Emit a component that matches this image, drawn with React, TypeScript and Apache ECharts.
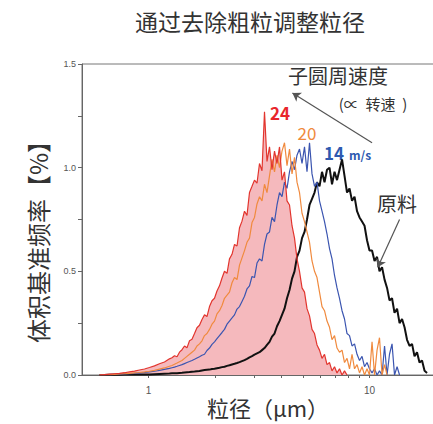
import React, { useEffect, useRef } from "react";
import * as echarts from "echarts";

// particle size (μm), shared by all series
const particleSize = [
  0.600, 0.632, 0.666, 0.702, 0.739, 0.779, 0.820, 0.864, 0.910, 0.959, 1.010, 1.064, 1.121, 1.181,
  1.244, 1.277, 1.311, 1.346, 1.381, 1.418, 1.455, 1.493, 1.533, 1.573,
  1.615, 1.657, 1.701, 1.746, 1.792, 1.839, 1.888, 1.938, 1.989, 2.041,
  2.095, 2.151, 2.207, 2.266, 2.325, 2.387, 2.450, 2.515, 2.581, 2.649,
  2.719, 2.790, 2.864, 2.940, 3.017, 3.097, 3.179, 3.263, 3.349, 3.437,
  3.528, 3.621, 3.717, 3.815, 3.916, 4.019, 4.125, 4.234, 4.346, 4.461,
  4.578, 4.699, 4.823, 4.951, 5.081, 5.215, 5.353, 5.494, 5.640, 5.788,
  5.941, 6.098, 6.259, 6.424, 6.594, 6.768, 6.947, 7.130, 7.318, 7.512,
  7.710, 7.913, 8.122, 8.337, 8.557, 8.783, 9.014, 9.252, 9.497, 9.747,
  10.00, 10.27, 10.54, 10.82, 11.10, 11.40, 11.70, 12.01, 12.32, 12.65,
  12.98, 13.33, 13.68, 14.04, 14.41, 14.79, 15.18, 15.58, 15.99, 16.41,
  16.84, 17.29, 17.75, 18.22, 18.70,
];

// 24 m/s
const speed24 = [
  0.000, 0.002, 0.004, 0.006, 0.008, 0.011, 0.015, 0.019, 0.024, 0.029, 0.036, 0.044, 0.054, 0.063,
  0.078, 0.083, 0.093, 0.088, 0.110, 0.122, 0.140, 0.131, 0.165, 0.172,
  0.200, 0.228, 0.240, 0.268, 0.290, 0.282, 0.330, 0.358, 0.370, 0.405,
  0.430, 0.468, 0.500, 0.490, 0.560, 0.582, 0.630, 0.622, 0.710, 0.742,
  0.790, 0.770, 0.880, 0.910, 0.940, 0.925, 1.020, 0.985, 1.270, 1.030,
  1.100, 0.990, 1.080, 1.020, 1.100, 0.940, 0.980, 0.840, 0.820, 0.720,
  0.660, 0.560, 0.500, 0.420, 0.400, 0.320, 0.285, 0.220, 0.200, 0.145,
  0.120, 0.080, 0.100, 0.050, 0.060, 0.020, 0.040, 0.010, 0.030, 0.000,
  0.020, 0.000, null, null, null, null, null, null, null, null,
  null, null, null, null, null, null, null, null, null, null,
  null, null, null, null, null, null, null, null, null, null,
  null, null, null, null, null,
];

// 20 m/s
const speed20 = [
  0.000, 0.001, 0.002, 0.003, 0.005, 0.006, 0.008, 0.010, 0.012, 0.015, 0.018, 0.022, 0.028, 0.034,
  0.042, 0.046, 0.052, 0.058, 0.064, 0.070, 0.080, 0.090, 0.100, 0.110,
  0.120, 0.140, 0.150, 0.165, 0.190, 0.200, 0.220, 0.245, 0.260, 0.295,
  0.310, 0.335, 0.370, 0.385, 0.400, 0.445, 0.470, 0.460, 0.530, 0.565,
  0.600, 0.640, 0.660, 0.735, 0.760, 0.825, 0.860, 0.840, 0.920, 0.880,
  0.960, 1.040, 0.980, 1.060, 1.000, 1.080, 1.120, 1.010, 1.090, 0.970,
  1.050, 0.930, 0.880, 0.780, 0.740, 0.690, 0.640, 0.550, 0.500, 0.470,
  0.400, 0.330, 0.310, 0.260, 0.230, 0.170, 0.190, 0.130, 0.110, 0.120,
  0.060, 0.080, 0.030, 0.100, 0.030, 0.050, 0.010, 0.040, 0.000, 0.030,
  0.000, 0.160, 0.000, 0.120, 0.180, 0.000, 0.050, 0.000, null, null,
  null, null, null, null, null, null, null, null, null, null,
  null, null, null, null, null,
];

// 14 m/s
const speed14 = [
  0.000, 0.001, 0.002, 0.003, 0.004, 0.005, 0.007, 0.008, 0.010, 0.012, 0.015, 0.018, 0.022, 0.027,
  0.032, 0.035, 0.038, 0.042, 0.046, 0.050, 0.055, 0.060, 0.065, 0.070,
  0.076, 0.082, 0.088, 0.095, 0.100, 0.118, 0.130, 0.148, 0.160, 0.175,
  0.190, 0.205, 0.220, 0.245, 0.260, 0.275, 0.290, 0.318, 0.330, 0.355,
  0.380, 0.415, 0.430, 0.475, 0.470, 0.540, 0.560, 0.550, 0.630, 0.680,
  0.690, 0.760, 0.740, 0.820, 0.880, 0.860, 0.930, 0.900, 0.980, 1.030,
  0.990, 1.060, 1.090, 1.020, 1.100, 0.980, 1.120, 0.970, 0.910, 0.930,
  0.840, 0.790, 0.740, 0.680, 0.610, 0.560, 0.480, 0.420, 0.370, 0.310,
  0.270, 0.200, 0.190, 0.140, 0.150, 0.100, 0.070, 0.090, 0.040, 0.060,
  0.030, 0.010, 0.030, 0.000, 0.020, 0.000, 0.140, 0.000, 0.100, 0.150,
  0.000, 0.040, 0.000, null, null, null, null, null, null, null,
  null, null, null, null, null,
];

// raw material (原料)
const rawMaterial = [
  0.000, 0.000, 0.001, 0.001, 0.001, 0.002, 0.002, 0.002, 0.002, 0.003, 0.003, 0.004, 0.005, 0.006,
  0.007, 0.008, 0.009, 0.009, 0.010, 0.011, 0.012, 0.013, 0.014, 0.016,
  0.017, 0.018, 0.019, 0.022, 0.024, 0.025, 0.026, 0.029, 0.030, 0.033,
  0.035, 0.038, 0.040, 0.044, 0.047, 0.051, 0.054, 0.058, 0.062, 0.067,
  0.072, 0.078, 0.085, 0.091, 0.098, 0.104, 0.110, 0.120, 0.130, 0.145,
  0.160, 0.185, 0.200, 0.235, 0.260, 0.290, 0.320, 0.370, 0.410, 0.465,
  0.500, 0.570, 0.600, 0.660, 0.690, 0.750, 0.820, 0.850, 0.880, 0.930,
  0.910, 0.980, 0.930, 0.990, 1.000, 0.920, 0.980, 0.940, 0.990, 1.040,
  0.960, 0.880, 0.900, 0.840, 0.860, 0.790, 0.760, 0.740, 0.720, 0.650,
  0.600, 0.600, 0.550, 0.570, 0.500, 0.520, 0.460, 0.420, 0.360, 0.370,
  0.300, 0.320, 0.250, 0.270, 0.230, 0.170, 0.140, 0.150, 0.090, 0.110,
  0.060, 0.070, 0.020, 0.010, null,
];

const xTickValues = [1, 2, 3, 4, 5, 6, 7, 8, 9, 10, 20];
const xLabelValues = [1, 10];
const yLabelValues = [0, 0.5, 1.0, 1.5];

// arrows: [fromSize, fromValue, toSize, toValue]
const speedArrow = [10.27, 1.12, 4.48, 1.36];
const rawArrow = [13.68, 0.75, 10.9, 0.52];

const CJK = '"Noto Sans CJK SC", "Noto Sans", sans-serif';
const NARROW = '"Liberation Sans Narrow", "Liberation Sans", sans-serif';

function pairs(values: (number | null)[]) {
  const out: [number, number][] = [];
  values.forEach((v, i) => {
    if (v !== null) out.push([particleSize[i], v]);
  });
  return out;
}

export default function App() {
  const ref = useRef<HTMLDivElement>(null);
  useEffect(() => {
    if (!ref.current) return;
    const chart = echarts.init(ref.current, null, { renderer: "svg" });
    const lineBase = { type: "line", showSymbol: false, symbol: "none", silent: true };
    chart.setOption({
      animation: false,
      grid: {
        left: 82,
        top: 64,
        right: -3,
        bottom: 49,
        show: true,
        borderColor: "#777",
        borderWidth: 1,
        outerBoundsMode: "none",
      },
      xAxis: {
        type: "log",
        logBase: 10,
        min: 0.5,
        max: 20,
        axisLine: { lineStyle: { color: "#666", width: 1 } },
        axisTick: { show: true, length: 3, customValues: xTickValues, lineStyle: { color: "#666" } },
        axisLabel: {
          customValues: xLabelValues,
          color: "#555",
          fontSize: 10,
          margin: 10,
          fontFamily: NARROW,
        },
        splitLine: { show: false },
        minorTick: { show: false },
      },
      yAxis: {
        type: "value",
        min: 0,
        max: 1.5,
        interval: 0.25,
        axisLine: { show: true, lineStyle: { color: "#666", width: 1 } },
        axisTick: { show: true, length: 4, lineStyle: { color: "#666" } },
        axisLabel: {
          customValues: yLabelValues,
          color: "#555",
          fontSize: 9,
          margin: 6,
          fontFamily: NARROW,
          formatter: (v: number) => v.toFixed(1),
        },
        splitLine: { show: false },
      },
      series: [
        {
          ...lineBase,
          name: "24 fill",
          data: pairs(speed24),
          lineStyle: { width: 0, opacity: 0 },
          areaStyle: { color: "#f5b9bd", opacity: 1 },
        },
        {
          ...lineBase,
          name: "原料",
          data: pairs(rawMaterial),
          lineStyle: { color: "#111", width: 2 },
          markLine: {
            silent: true,
            symbol: ["none", "arrow"],
            symbolSize: 8,
            label: { show: false },
            lineStyle: { color: "#555", width: 1.2, type: "solid" },
            data: [
              [
                { coord: [speedArrow[0], speedArrow[1]] },
                { coord: [speedArrow[2], speedArrow[3]] },
              ],
              [
                { coord: [rawArrow[0], rawArrow[1]] },
                { coord: [rawArrow[2], rawArrow[3]] },
              ],
            ],
          },
        },
        {
          ...lineBase,
          name: "14",
          data: pairs(speed14),
          lineStyle: { color: "#3b55b0", width: 1.2 },
        },
        {
          ...lineBase,
          name: "20",
          data: pairs(speed20),
          lineStyle: { color: "#f08a3e", width: 1.2 },
        },
        {
          ...lineBase,
          name: "24",
          data: pairs(speed24),
          lineStyle: { color: "#e2352e", width: 1.2 },
        },
      ],
      graphic: [
        {
          type: "text",
          x: 250,
          y: 21,
          style: { text: "通过去除粗粒调整粒径", fill: "#333", fontSize: 23, fontFamily: CJK, align: "center", verticalAlign: "middle" },
        },
        {
          type: "text",
          x: 37,
          y: 236,
          rotation: Math.PI / 2,
          style: { text: "体积基准频率【%】", fill: "#333", fontSize: 24, fontFamily: CJK, align: "center", verticalAlign: "middle" },
        },
        {
          type: "text",
          x: 268,
          y: 407,
          style: { text: "粒径（μm）", fill: "#333", fontSize: 22, fontFamily: CJK, align: "center", verticalAlign: "middle" },
        },
        {
          type: "text",
          x: 338,
          y: 75,
          style: { text: "子圆周速度", fill: "#333", fontSize: 20, fontFamily: CJK, align: "center", verticalAlign: "middle" },
        },
        {
          type: "text",
          x: 373,
          y: 103,
          style: { text: "(∝  转速  )", fill: "#333", fontSize: 15, fontFamily: CJK, align: "center", verticalAlign: "middle" },
        },
        {
          type: "text",
          x: 280,
          y: 112,
          style: { text: "24", fill: "#e8262b", fontSize: 17, fontWeight: "bold", fontFamily: CJK, align: "center", verticalAlign: "middle" },
        },
        {
          type: "text",
          x: 307,
          y: 132,
          style: { text: "20", fill: "#ef8a3c", fontSize: 17, fontFamily: CJK, align: "center", verticalAlign: "middle" },
        },
        {
          type: "text",
          x: 334,
          y: 152,
          style: { text: "14", fill: "#2d59b0", fontSize: 17, fontWeight: "bold", fontFamily: CJK, align: "center", verticalAlign: "middle" },
        },
        {
          type: "text",
          x: 360,
          y: 154,
          style: { text: "m/s", fill: "#2d59b0", fontSize: 12, fontWeight: "bold", fontFamily: CJK, align: "center", verticalAlign: "middle" },
        },
        {
          type: "text",
          x: 397,
          y: 203,
          style: { text: "原料", fill: "#333", fontSize: 20, fontFamily: CJK, align: "center", verticalAlign: "middle" },
        },
      ],
    });
    return () => chart.dispose();
  }, []);
  return (
    <div
      ref={ref}
      style={{ position: "fixed", left: 0, top: 0, width: 433, height: 424, background: "#fff" }}
    />
  );
}
